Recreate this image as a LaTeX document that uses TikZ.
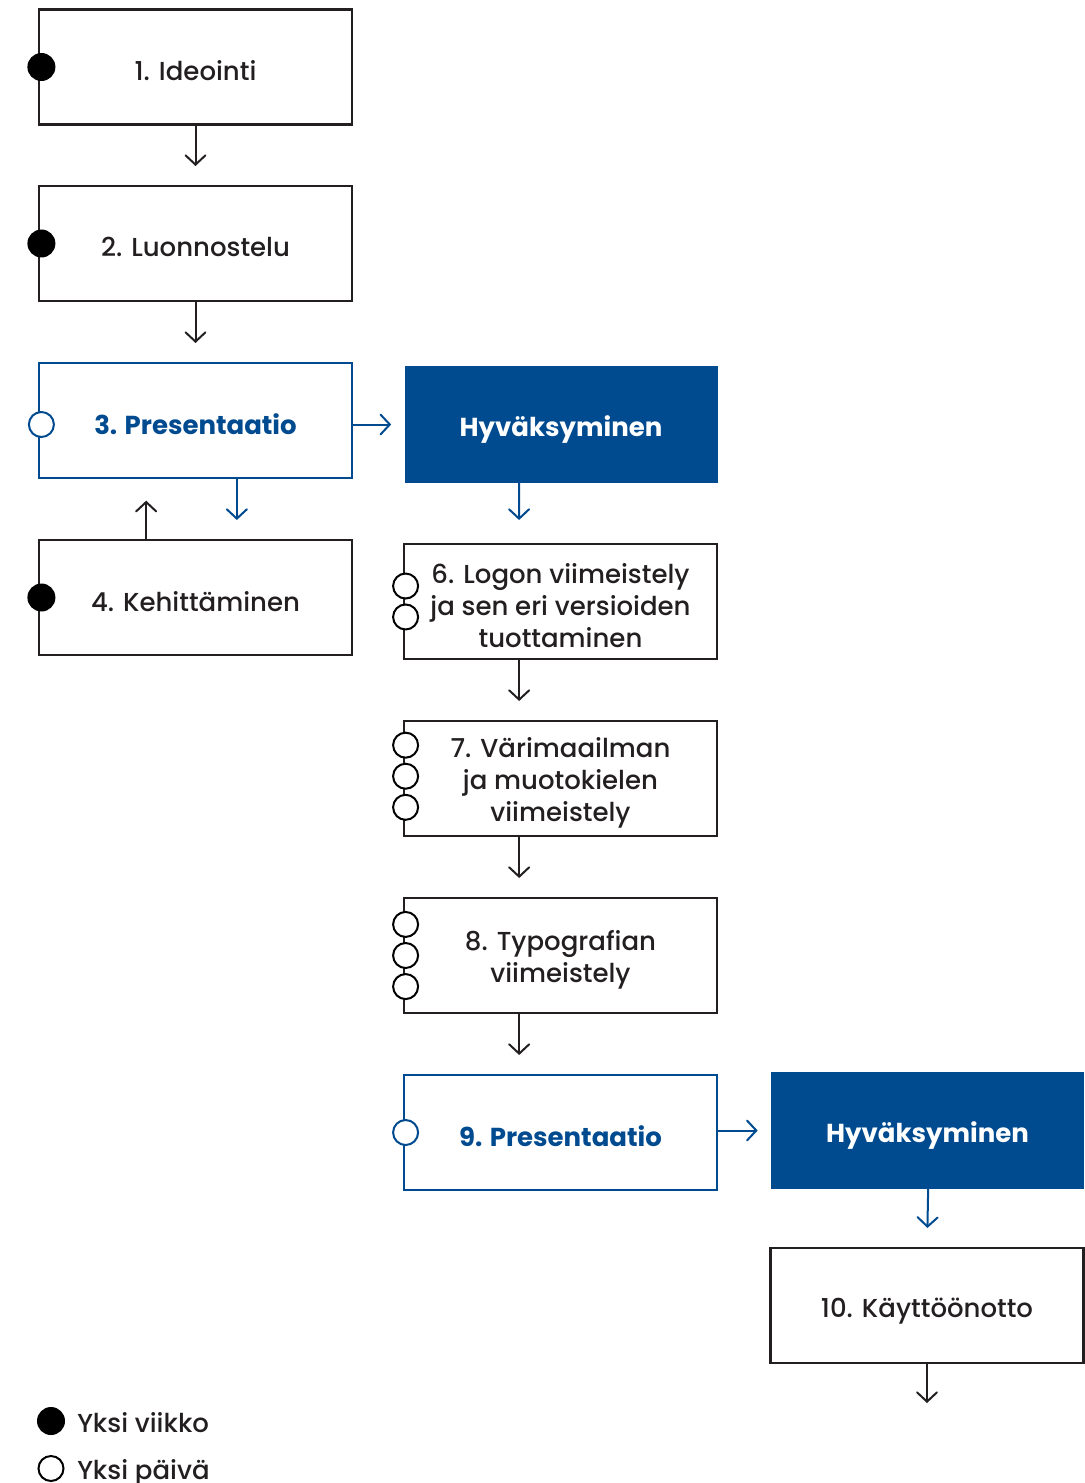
\documentclass[tikz,border=0pt]{standalone}
\usepackage{fontspec}
\setmainfont{Poppins}[UprightFont={* Medium}, BoldFont={* Bold}]
\usetikzlibrary{arrows.meta}
\definecolor{ink}{HTML}{231F20}
\definecolor{brand}{HTML}{004A8F}
\begin{document}
\begin{tikzpicture}[x=0.75pt,y=-0.75pt,
  box/.style={draw=ink, line width=2pt, minimum width=234.75pt, minimum height=86.25pt,
    inner sep=0pt, outer sep=0pt},
  bluebox/.style={box, draw=brand, line width=1.6pt},
  okbox/.style={box, draw=none, fill=brand, minimum height=87.75pt},
  txt/.style={inner sep=0pt, text=ink, align=center, font=\fontsize{19.5}{24}\selectfont},
  btxt/.style={txt, text=brand, font=\fontsize{19.5}{24}\selectfont\bfseries},
  wtxt/.style={txt, text=white, font=\fontsize{19.5}{24}\selectfont\bfseries},
  arr/.style={-{Straight Barb[length=7pt,width=15pt,line cap=round]}, line width=1.5pt,
    draw=ink, shorten >=15pt},
  barr/.style={arr, draw=brand},
  week/.style={circle, fill=black, minimum size=21pt, inner sep=0pt, outer sep=0pt},
  day/.style={circle, draw=black, fill=white, line width=1.5pt, minimum size=18.75pt,
    inner sep=0pt, outer sep=0pt},
  bday/.style={day, draw=brand},
  legend/.style={anchor=base west, text=ink, inner sep=0pt, font=\fontsize{19.5}{24}\selectfont}
]
\useasboundingbox (0,0) rectangle (1084,1483);

% boxes
\node[box] (b1) at (195.5,67) {};
\node[box] (b2) at (195.5,243.5) {};
\node[bluebox] (b3) at (195.5,420.5) {};
\node[okbox] (h1) at (561,424.5) {};
\node[box] (b4) at (195.5,597.5) {};
\node[box] (b6) at (560.5,601.5) {};
\node[box] (b7) at (560.5,778.5) {};
\node[box] (b8) at (560.5,955.5) {};
\node[bluebox] (b9) at (560.5,1132.5) {};
\node[okbox] (h2) at (927.5,1130.5) {};
\node[box] (b10) at (927,1305.5) {};
\coordinate (end) at (927,1423);

% box texts
\node[txt] (t1) at ([yshift=-2.8pt]b1.center) {1. Ideointi};
\node[txt] (t2) at ([yshift=-2.8pt]b2.center) {2. Luonnostelu};
\node[btxt] (t3) at ([yshift=-3pt]b3.center) {3. Presentaatio};
\node[wtxt] (th1) at ([yshift=-3.5pt]h1.center) {Hyväksyminen};
\node[txt] (t4) at ([yshift=-2.8pt]b4.center) {4. Kehittäminen};
\node[txt] (t6) at ([yshift=-3pt]b6.center) {6. Logon viimeistely\\ja sen eri versioiden\\tuottaminen};
\node[txt] (t7) at ([yshift=-3pt]b7.center) {7. Värimaailman\\ja muotokielen\\viimeistely};
\node[txt] (t8) at ([yshift=-3pt]b8.center) {8. Typografian\\viimeistely};
\node[btxt] (t9) at ([yshift=-3pt]b9.center) {9. Presentaatio};
\node[wtxt] (th2) at ([yshift=-3.5pt]h2.center) {Hyväksyminen};
\node[txt] (t10) at ([yshift=-4.5pt]b10.center) {10. Käyttöönotto};

% duration markers
\node[week] (w1) at ([xshift=1.8pt]b1.west) {};
\node[week] (w2) at ([xshift=1.8pt]b2.west) {};
\node[bday] (d3) at ([xshift=1.8pt,yshift=-3pt]b3.west) {};
\node[week] (w4) at ([xshift=1.8pt]b4.west) {};
\node[day] (d6a) at ([xshift=1.2pt,yshift=11.6pt]b6.west) {};
\node[day] (d6b) at ([xshift=1.2pt,yshift=-11.6pt]b6.west) {};
\node[day] (d7a) at ([xshift=1.2pt,yshift=25pt]b7.west) {};
\node[day] (d7b) at ([xshift=1.2pt,yshift=1.7pt]b7.west) {};
\node[day] (d7c) at ([xshift=1.2pt,yshift=-21.6pt]b7.west) {};
\node[day] (d8a) at ([xshift=1.2pt,yshift=23.3pt]b8.west) {};
\node[day] (d8b) at ([xshift=1.2pt]b8.west) {};
\node[day] (d8c) at ([xshift=1.2pt,yshift=-23.3pt]b8.west) {};
\node[bday] (d9) at ([xshift=1.2pt]b9.west) {};

% connectors
\draw[arr] (b1.south) -- (b2.north);
\draw[arr] (b2.south) -- (b3.north);
\draw[barr, shorten >=10pt] (b3.east |- h1.west) -- (h1.west);
\draw[barr] ([xshift=31pt]b3.south) -- ([xshift=31pt]b4.north);
\draw[arr, shorten >=17pt] ([xshift=-37pt]b4.north) -- ([xshift=-37pt]b3.south);
\draw[barr, shorten >=18pt] ([xshift=-31.5pt]h1.south) -- ([xshift=-31pt]b6.north);
\draw[arr] ([xshift=-31pt]b6.south) -- ([xshift=-31pt]b7.north);
\draw[arr] ([xshift=-31pt]b7.south) -- ([xshift=-31pt]b8.north);
\draw[arr] ([xshift=-31pt]b8.south) -- ([xshift=-31pt]b9.north);
\draw[barr, shorten >=10pt] (b9.east |- h2.west) -- (h2.west);
\draw[barr, shorten >=15pt] ([xshift=0.5pt]h2.south) -- (b10.north);
\draw[arr, shorten >=15pt] (b10.south) -- (end);

% legend
\node[week] (lw) at (51,1421) {};
\node[legend] (lwt) at (77,1432) {Yksi viikko};
\node[day] (ld) at (51,1468.5) {};
\node[legend] (ldt) at (77,1479) {Yksi päivä};
\end{tikzpicture}
\end{document}
